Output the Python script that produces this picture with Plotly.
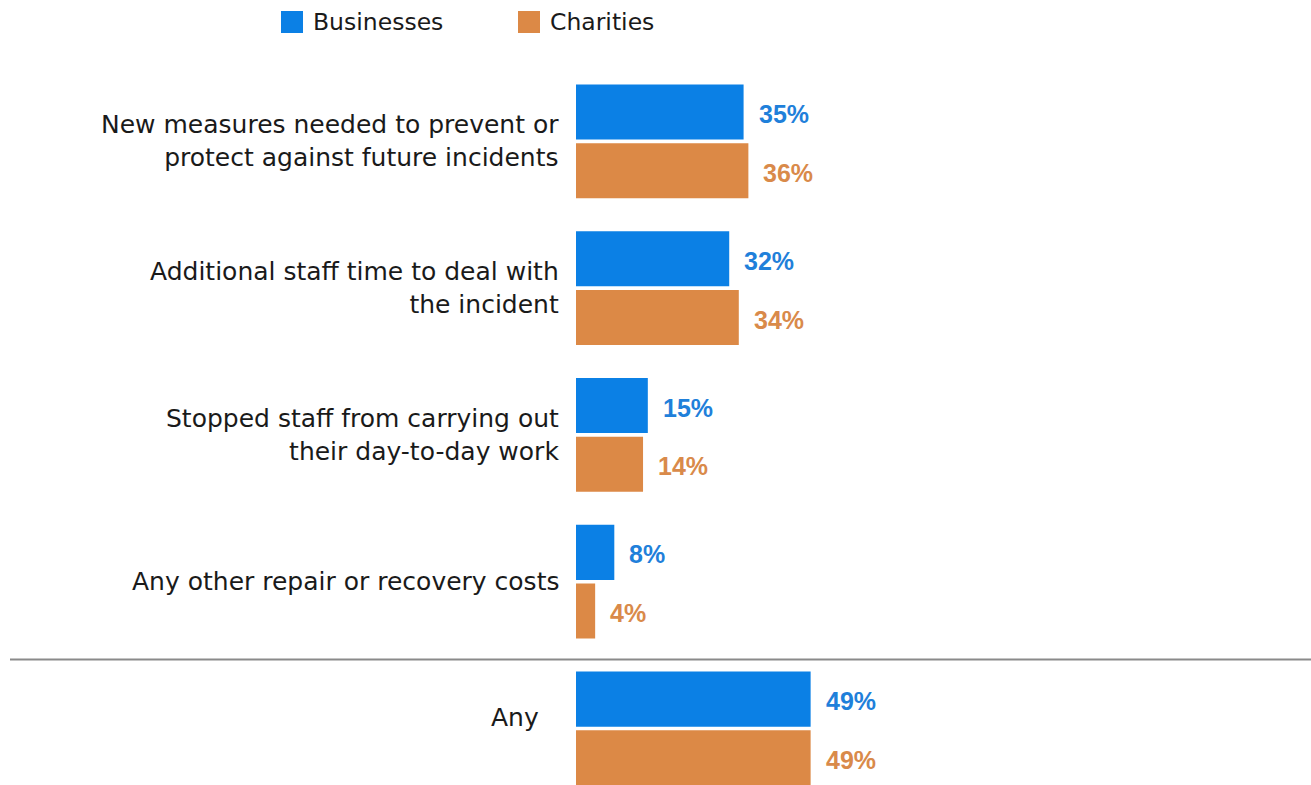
import plotly.graph_objects as go

# ---- data -------------------------------------------------------------
categories = [
    "New measures needed to prevent or<br>protect against future incidents",
    "Additional staff time to deal with<br>the incident",
    "Stopped staff from carrying out<br>their day-to-day work",
    "Any other repair or recovery costs",
    "Any",
]
businesses = [35, 32, 15, 8, 49]
charities = [36, 34, 14, 4, 49]
series_names = ["Businesses", "Charities"]

# ---- layout constants -------------------------------------------------
W, H = 1311, 785
M_L, M_T = 576, 68
PLOT_W, PLOT_H = W - M_L, H - M_T

BLUE, ORANGE = "#0B80E5", "#DC8946"
BLUE_TXT, ORANGE_TXT = "#1F80DA", "#D98A4A"
LABEL_FONT = "DejaVu Sans"
VALUE_FONT = "Liberation Sans"

OFFSET = 0.2      # half distance between the two bars of a row
BAR_W = 0.375     # bar thickness in row units
SEPARATOR_Y = 3.53


def px_x(px):
    return (px - M_L) / PLOT_W


def px_y(py):
    return (H - py) / PLOT_H


rows = list(range(len(categories)))
fig = go.Figure()

series = [
    (series_names[0], businesses, BLUE, BLUE_TXT, -1),
    (series_names[1], charities, ORANGE, ORANGE_TXT, 1),
]

for name, vals, color, txt_color, sign in series:
    ys = [r + sign * OFFSET for r in rows]
    fig.add_trace(go.Bar(
        x=vals, y=ys, orientation="h", width=BAR_W, name=name,
        marker=dict(color=color, line=dict(width=0)),
        showlegend=False, hoverinfo="x+name",
    ))
    for v, y in zip(vals, ys):
        fig.add_annotation(
            x=v, y=y, xref="x", yref="y", text=f"{v}%",
            xanchor="left", yanchor="middle", xshift=13, yshift=-2,
            showarrow=False,
            font=dict(family=VALUE_FONT, size=25, color=txt_color, weight="bold"),
        )

# category labels, right aligned to the left of the bars
for r, label in zip(rows, categories):
    dx, dy = (-20, 11) if r == rows[-1] else (0, 0)
    fig.add_annotation(
        x=px_x(561), y=r, xref="paper", yref="y", text=label,
        xanchor="right", yanchor="middle", align="right", showarrow=False,
        xshift=dx, yshift=dy,
        font=dict(family=LABEL_FONT, size=25, color="#1a1a1a"),
    )

# separator above the overall row
fig.add_shape(
    type="line", xref="paper", yref="y",
    x0=px_x(10), x1=1, y0=SEPARATOR_Y, y1=SEPARATOR_Y,
    line=dict(color="#8a8a8a", width=2),
)

# legend: coloured squares with series names
legend_items = [(series_names[0], BLUE, 281), (series_names[1], ORANGE, 518)]
for name, color, x0 in legend_items:
    fig.add_shape(
        type="rect", xref="paper", yref="paper",
        x0=px_x(x0), x1=px_x(x0 + 22), y0=px_y(33), y1=px_y(11),
        fillcolor=color, line=dict(width=0),
    )
    fig.add_annotation(
        x=px_x(x0 + 30), y=px_y(22), xref="paper", yref="paper",
        text=name, xanchor="left", yanchor="middle", showarrow=False,
        font=dict(family=LABEL_FONT, size=23.5, color="#1a1a1a"),
    )

fig.update_layout(
    width=W, height=H,
    margin=dict(l=M_L, r=0, t=M_T, b=0, pad=0),
    paper_bgcolor="white", plot_bgcolor="white",
    barmode="overlay", showlegend=False,
    xaxis=dict(range=[0, 153.5], visible=False, fixedrange=True),
    yaxis=dict(range=[4.385, -0.5], visible=False, fixedrange=True),
)

fig.write_html("out.html")
